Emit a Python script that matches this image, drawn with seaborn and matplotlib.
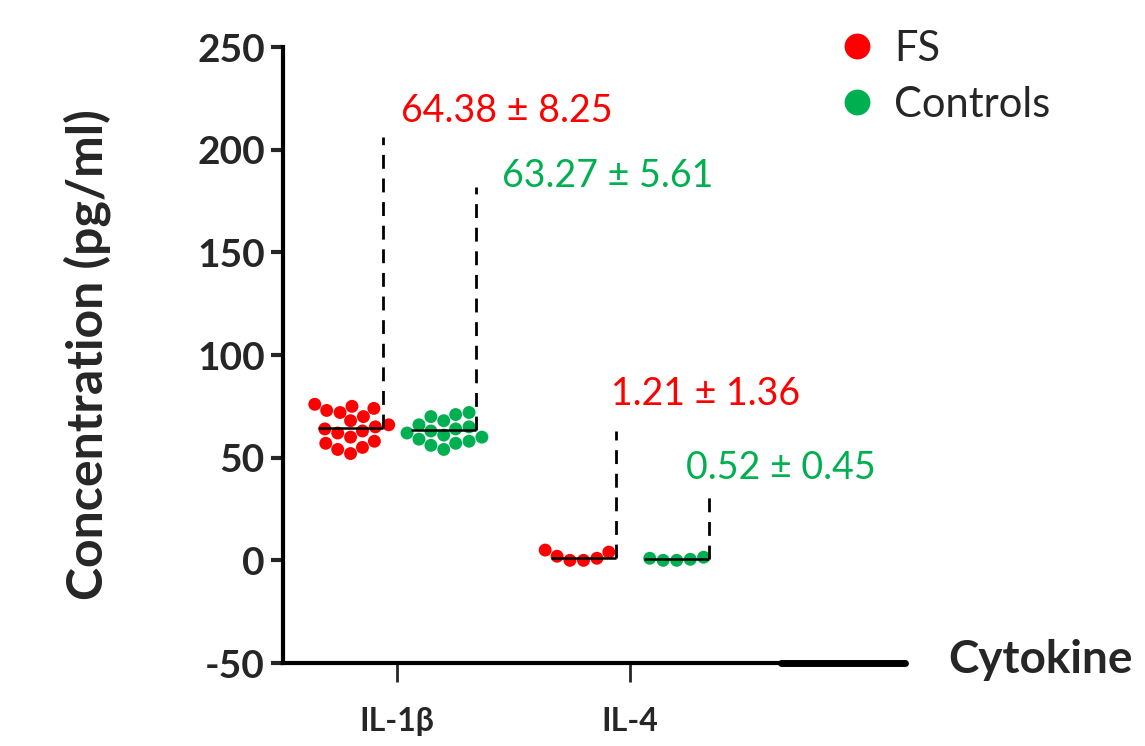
import numpy as np
import pandas as pd
import matplotlib
matplotlib.use('Agg')
import matplotlib.pyplot as plt
import seaborn as sns

# values (pg/ml)
cytokines = ['IL-1β', 'IL-4']
groups = ['FS', 'Controls']
fs_il1b = [76, 75, 74, 73, 72, 70, 68, 66, 65, 64, 63, 62, 60, 58, 57, 55, 54, 52]
ctrl_il1b = [72, 71, 70, 68, 66, 65, 64, 63, 62, 61, 60, 59, 58, 57, 56, 54]
fs_il4 = [0, 0, 1, 2, 4, 5]
ctrl_il4 = [0, 0, 0.5, 1, 1.5]

fs_mean = [64.38, 1.21]
fs_sd = [8.25, 1.36]
ctrl_mean = [63.27, 0.52]
ctrl_sd = [5.61, 0.45]

colors = {'FS': '#ff0000', 'Controls': '#00b050'}

rows = []
for cyt, grp, vals in [('IL-1β', 'FS', fs_il1b), ('IL-1β', 'Controls', ctrl_il1b),
                       ('IL-4', 'FS', fs_il4), ('IL-4', 'Controls', ctrl_il4)]:
    for v in vals:
        rows.append({'cytokine': cyt, 'group': grp, 'value': v})
df = pd.DataFrame(rows)

sns.set_style('white')
plt.rcParams['font.family'] = ['Lato', 'DejaVu Sans']
plt.rcParams['axes.unicode_minus'] = False

fig = plt.figure(figsize=(11.45, 7.46), dpi=100)
ax = fig.add_axes([283 / 1145, 1 - 663 / 746, (905 - 283) / 1145, (663 - 47) / 746])

sns.swarmplot(data=df, x='cytokine', y='value', hue='group', order=cytokines,
              hue_order=groups, dodge=True, palette=colors, size=9.3,
              linewidth=0, ax=ax)

# mean lines, dashed leaders and mean ± SD labels
half = 0.14
dash_top_fs = [206, 63]
dash_top_ctrl = [182, 32]
text_fs = [(0.015, 219), (0.92, 81)]
text_ctrl = [(0.45, 187), (1.24, 45)]
for i in range(len(cytokines)):
    for off, m, sd, top, (tx, ty), grp in [(-0.2, fs_mean[i], fs_sd[i], dash_top_fs[i], text_fs[i], 'FS'),
                                            (0.2, ctrl_mean[i], ctrl_sd[i], dash_top_ctrl[i], text_ctrl[i], 'Controls')]:
        ax.hlines(m, i + off - half, i + off + half, color='black', lw=1.8, zorder=5)
        ax.vlines(i + off + half, m, top, color='black', lw=2, linestyles=(0, (5, 3.5)), zorder=5)
        ax.text(tx, ty, f'{m:.2f} ± {sd:.2f}', color=colors[grp], fontsize=27,
                ha='left', va='center')

ax.set_ylim(-50, 250)
ax.set_xlim(-0.49, 2.18)
ax.set_yticks([-50, 0, 50, 100, 150, 200, 250])
for s in ['top', 'right']:
    ax.spines[s].set_visible(False)
for s in ['left', 'bottom']:
    ax.spines[s].set_linewidth(3)
    ax.spines[s].set_color('black')
ax.axhline(-50, xmin=0.8, xmax=1.0, color='black', lw=5, clip_on=False, zorder=6)

ax.tick_params(axis='y', direction='out', length=9, width=3, labelsize=28, pad=4, left=True)
ax.tick_params(axis='x', direction='out', length=14, width=2, labelsize=23, pad=18, bottom=True)
for lab in ax.get_yticklabels() + ax.get_xticklabels():
    lab.set_fontweight('bold')

ax.set_xlabel('')
ax.set_ylabel('Concentration (pg/ml)', fontsize=36, fontweight='bold', labelpad=62)
fig.text(948 / 1145, 1 - 660 / 746, 'Cytokine', fontsize=33, fontweight='bold',
         ha='left', va='center')

handles, labels = ax.get_legend_handles_labels()
ax.legend(handles, labels, loc='upper left', bbox_to_anchor=(794 / 1145, 1.01),
          bbox_transform=fig.transFigure, frameon=False, fontsize=30, markerscale=2.0,
          handletextpad=0.3, labelspacing=0.42, handlelength=1.2)

fig.savefig('out.png', dpi=100)
